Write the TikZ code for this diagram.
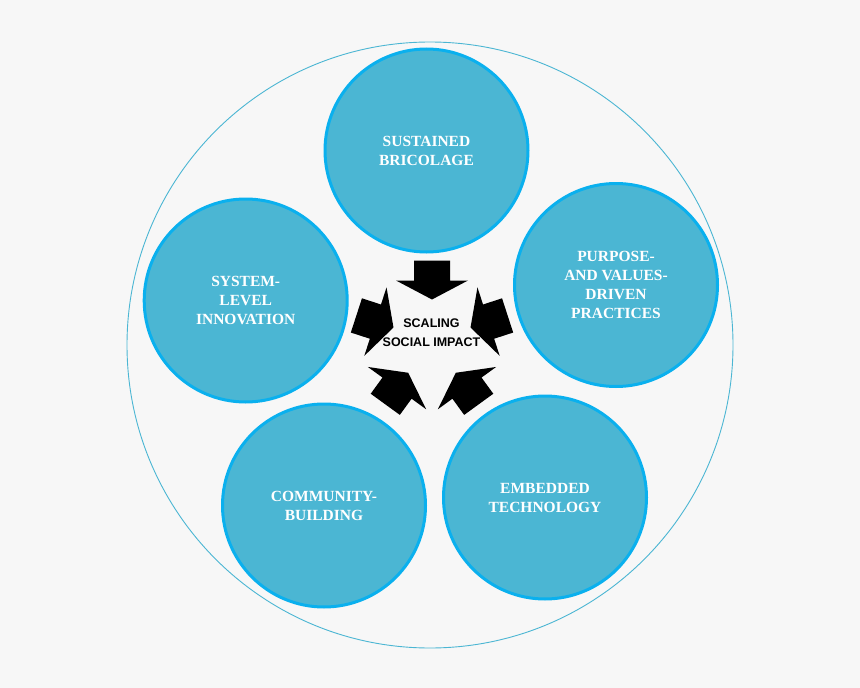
\documentclass[tikz,border=0pt]{standalone}
\usepackage{fontspec}
\setmainfont{Liberation Serif}
\newfontfamily\centerfont{Liberation Sans}
\definecolor{bg}{HTML}{F7F7F7}
\definecolor{bubblefill}{HTML}{4BB6D3}
\definecolor{bubbleedge}{HTML}{0AB0EE}
\definecolor{ringcol}{HTML}{4BB6D3}
\tikzset{
  bubble/.style={circle, minimum size=203pt, inner sep=0pt, fill=bubblefill,
    draw=bubbleedge, line width=3pt, text=white, align=center,
    font=\bfseries\fontsize{15.5}{19}\selectfont},
  ring/.style={draw=ringcol, line width=0.9pt},
  blockarrow/.style={fill=black, draw=none},
  centertext/.style={align=center, text=black,
    font=\centerfont\bfseries\fontsize{12.5}{19}\selectfont}
}
\begin{document}
\begin{tikzpicture}[x=1pt, y=-1pt]
  \useasboundingbox[fill=bg] (0,0) rectangle (860,688);
  % outer ring
  \node[ring, circle, minimum size=606pt, inner sep=0pt] (outer) at (430,345) {};
  % five bubbles
  \node[bubble] (sustained) at (426.5,150.5) {SUSTAINED\\BRICOLAGE};
  \node[bubble] (purpose) at (616,285) {PURPOSE-\\AND VALUES-\\DRIVEN\\PRACTICES};
  \node[bubble] (embedded) at (545,497.5) {EMBEDDED\\TECHNOLOGY};
  \node[bubble] (community) at (324,505.5) {COMMUNITY-\\BUILDING};
  \node[bubble] (system) at (245.7,300.5) {SYSTEM-\\LEVEL\\INNOVATION};
  % converging block arrows
  \coordinate (hub) at (432,340);
  \foreach \ang in {90,162,234,306,18}{
    \begin{scope}[shift={(hub)}, rotate=\ang]
      \fill[blockarrow] (40.5,0) -- (59.5,36) -- (59.5,18) -- (79.5,18)
        -- (79.5,-18) -- (59.5,-18) -- (59.5,-36) -- cycle;
    \end{scope}
  }
  % center label
  \node[centertext] (scaling) at (431.5,333) {SCALING\\SOCIAL IMPACT};
\end{tikzpicture}
\end{document}
